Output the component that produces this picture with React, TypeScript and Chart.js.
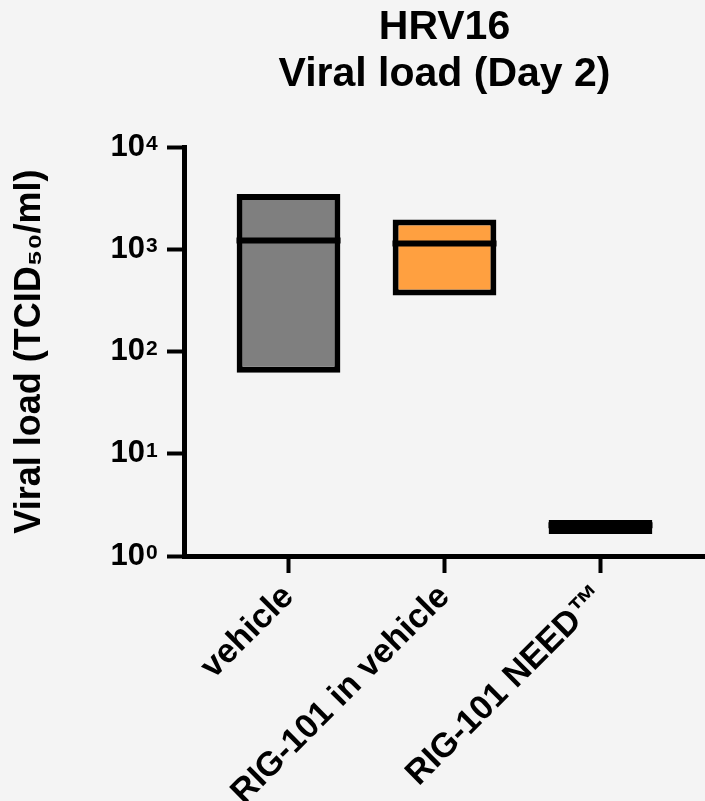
import React, { useEffect, useRef } from "react";
import { Chart, registerables } from "chart.js";

Chart.register(...registerables);

const categories = ["vehicle", "RIG-101 in vehicle", "RIG-101 NEED™"];
const categoryPositions = [1, 2, 3];
const lowValues = [62, 354, 1.64];
const highValues = [3500, 1970, 2.25];
const medianValues = [1225, 1145, 2];
const barColors = ["#7f7f7f", "#ffa040", "#000000"];
const yTickValues = [1, 10, 100, 1000, 10000];

const FONT = "'Liberation Sans', Arial, Helvetica, sans-serif";
const EXP_ROOM = 17;

const exponentPlugin = {
  id: "exponents",
  afterDraw(chart: any) {
    const scale = chart.scales.y;
    const ctx = chart.ctx;
    ctx.save();
    ctx.fillStyle = "#000000";
    ctx.font = `bold 21px ${FONT}`;
    ctx.textAlign = "left";
    ctx.textBaseline = "alphabetic";
    const x = scale.right - 17 - 5 - EXP_ROOM + 1;
    yTickValues.forEach((v) => {
      const y = scale.getPixelForValue(v);
      ctx.fillText(String(Math.round(Math.log10(v))), x, y + 3);
    });
    ctx.restore();
  },
};

export default function App() {
  const canvasRef = useRef<HTMLCanvasElement | null>(null);

  useEffect(() => {
    const canvas = canvasRef.current;
    if (!canvas) return;
    const chart = new Chart(canvas, {
      type: "bar",
      data: {
        datasets: [
          {
            type: "bar",
            order: 2,
            data: categoryPositions.map((x, i) => ({ x, y: [lowValues[i], highValues[i]] })) as any,
            backgroundColor: barColors,
            borderColor: "#000000",
            borderWidth: 6,
            borderSkipped: false,
            categoryPercentage: 1,
            barPercentage: 0.665,
          } as any,
          {
            type: "scatter",
            order: 1,
            data: categoryPositions.map((x, i) => ({ x, y: medianValues[i] })),
            pointStyle: "line",
            pointRadius: 52,
            pointHoverRadius: 52,
            borderColor: "#000000",
            pointBorderColor: "#000000",
            pointBorderWidth: 6,
            borderWidth: 6,
            showLine: false,
            clip: false,
          } as any,
        ],
      },
      options: {
        animation: false,
        responsive: false,
        maintainAspectRatio: false,
        layout: { padding: 0, autoPadding: false },
        plugins: {
          legend: { display: false },
          tooltip: { enabled: false },
          title: {
            display: true,
            text: ["HRV16", "Viral load (Day 2)"],
            color: "#000000",
            fullSize: false,
            font: { family: FONT, size: 41, weight: "bold", lineHeight: 1.15 },
            padding: { top: 4, bottom: 49 },
          },
        },
        scales: {
          x: {
            type: "linear",
            min: 0.33,
            max: 3.67,
            offset: false,
            afterBuildTicks: (scale: any) => {
              scale.ticks = categoryPositions.map((v) => ({ value: v }));
            },
            afterFit: (scale: any) => {
              scale.height = 245;
            },
            border: { display: true, color: "#000000", width: 5 },
            grid: {
              display: true,
              offset: false,
              drawOnChartArea: false,
              drawTicks: true,
              tickLength: 17,
              tickWidth: 4,
              tickColor: "#000000",
            },
            ticks: {
              autoSkip: false,
              maxRotation: 45,
              minRotation: 45,
              padding: 4,
              color: "#000000",
              font: { family: FONT, size: 34, weight: "bold" },
              callback: (_v: any, index: number) => categories[index],
            },
          },
          y: {
            type: "logarithmic",
            min: 1,
            max: 10000,
            afterBuildTicks: (scale: any) => {
              scale.ticks = yTickValues.map((v) => ({ value: v, major: true }));
            },
            afterFit: (scale: any) => {
              scale.width = 184;
            },
            border: { display: true, color: "#000000", width: 5 },
            grid: {
              display: true,
              drawOnChartArea: false,
              drawTicks: true,
              tickLength: 17,
              tickWidth: 4,
              tickColor: "#000000",
            },
            ticks: {
              padding: 5 + EXP_ROOM,
              color: "#000000",
              font: { family: FONT, size: 31, weight: "bold" },
              callback: () => "10",
            },
            title: {
              display: true,
              text: "Viral load (TCID₅₀/ml)",
              color: "#000000",
              font: { family: FONT, size: 36, weight: "bold" },
              padding: { top: 8, bottom: 0 },
            },
          },
        },
      } as any,
      plugins: [exponentPlugin],
    });
    return () => chart.destroy();
  }, []);

  return (
    <div
      style={{
        position: "fixed",
        left: 0,
        top: 0,
        width: 705,
        height: 801,
        background: "#f4f4f4",
        overflow: "hidden",
      }}
    >
      <canvas ref={canvasRef} width={705} height={801} style={{ display: "block" }} />
    </div>
  );
}
